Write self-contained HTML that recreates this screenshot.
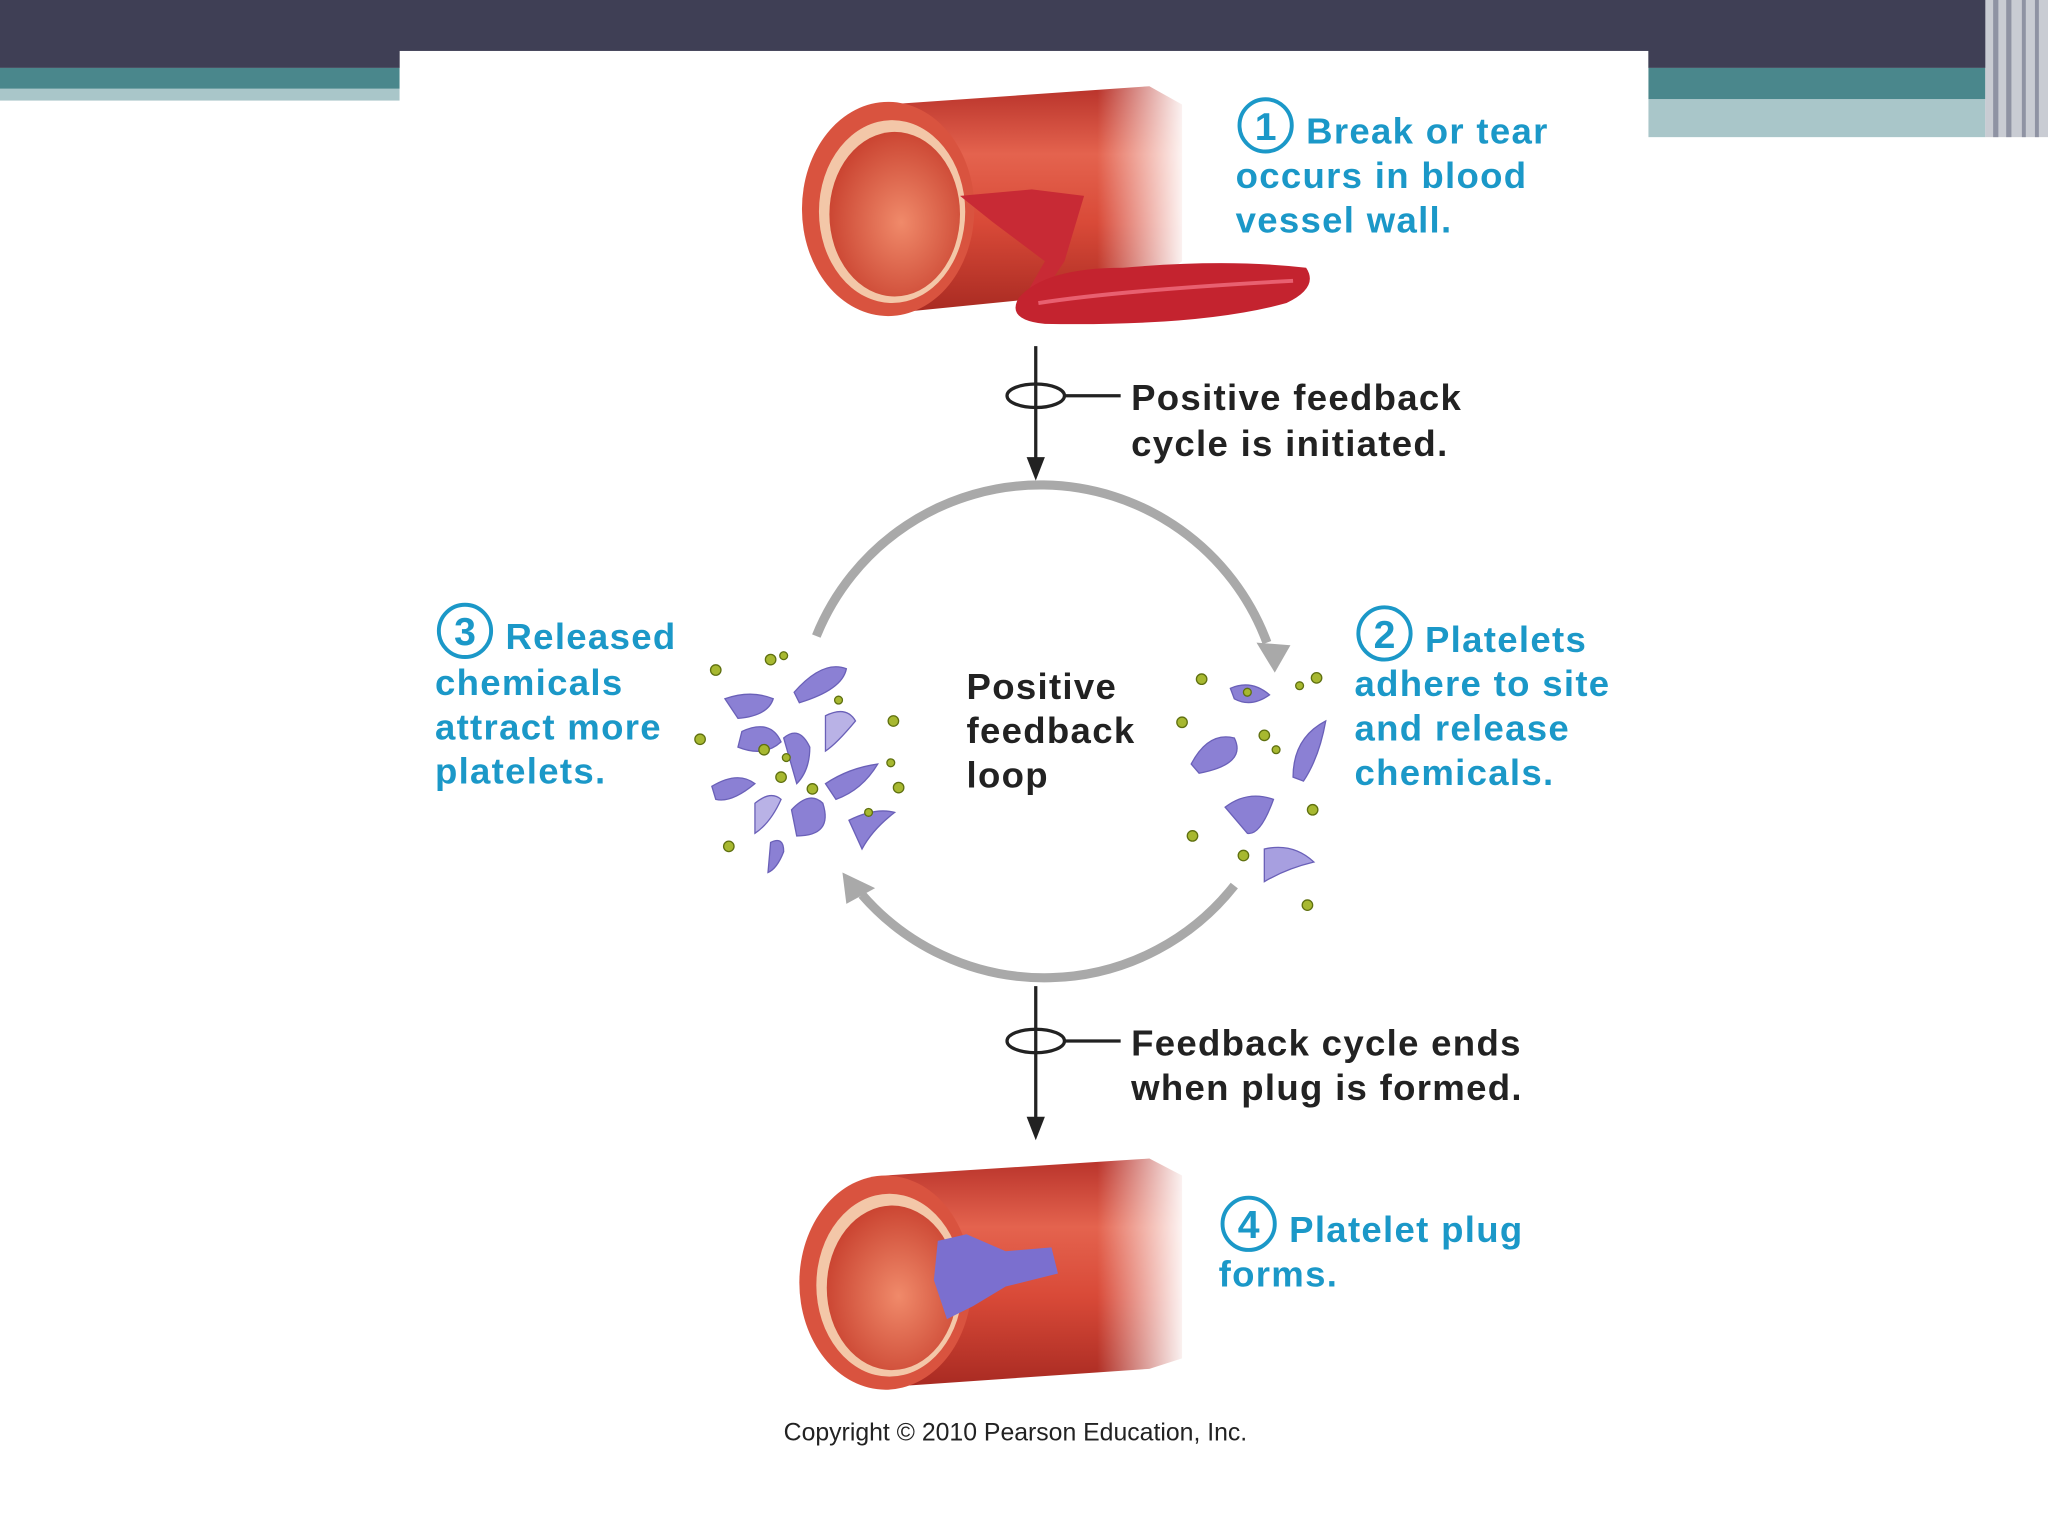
<!DOCTYPE html>
<html><head><meta charset="utf-8"><style>
html,body{margin:0;padding:0;background:#fff;}
svg{display:block}
</style></head><body>
<svg width="2048" height="1536" viewBox="0 0 1568 1176" xmlns="http://www.w3.org/2000/svg">
<defs>
<linearGradient id="vg" x1="0" y1="0" x2="0" y2="1">
<stop offset="0" stop-color="#b8322a"/><stop offset="0.3" stop-color="#e4634e"/><stop offset="0.6" stop-color="#d94a38"/><stop offset="1" stop-color="#a82a22"/>
</linearGradient>
<linearGradient id="fade" x1="0" y1="0" x2="1" y2="0">
<stop offset="0" stop-color="#fff" stop-opacity="0"/><stop offset="1" stop-color="#fff" stop-opacity="1"/>
</linearGradient>
<radialGradient id="inner" cx="0.55" cy="0.55" r="0.6">
<stop offset="0" stop-color="#f08a6a"/><stop offset="1" stop-color="#c8402e"/>
</radialGradient>
</defs>
<rect width="1568" height="1176" fill="#fff"/>
<rect x="0" y="0" width="1568" height="52" fill="#3f3f55"/>
<rect x="0" y="52" width="306" height="16" fill="#4a878c"/>
<rect x="0" y="68" width="306" height="9" fill="#a9c6c9"/>
<rect x="1262" y="52" width="258" height="24" fill="#4a878c"/>
<rect x="1262" y="76" width="258" height="29" fill="#a9c6c9"/>
<rect x="1520" y="0" width="48" height="105" fill="#c9ccd3"/>
<rect x="1526" y="0" width="4" height="105" fill="#8f93a3"/>
<rect x="1536" y="0" width="4" height="105" fill="#8f93a3"/>
<rect x="1548" y="0" width="3" height="105" fill="#8f93a3"/>
<rect x="1558" y="0" width="3" height="105" fill="#8f93a3"/>
<rect x="306" y="39" width="956" height="1137" fill="#fff"/>

<g>
<path d="M680,80 L880,66 L905,80 L905,200 L880,220 L680,240 Z" fill="url(#vg)"/>
<rect x="840" y="60" width="70" height="170" fill="url(#fade)"/>
<ellipse cx="680" cy="160" rx="66" ry="82" fill="#d9533f"/>
<ellipse cx="683" cy="162" rx="56" ry="70" fill="#f3c7a8"/>
<ellipse cx="685" cy="164" rx="50" ry="63" fill="url(#inner)"/>
<path d="M735,150 L790,145 L830,150 L815,200 L795,230 L780,235 L800,200 L760,170 Z" fill="#c82a35"/>
<path d="M780,228 Q800,205 860,205 Q940,198 1000,205 Q1010,220 985,232 Q920,250 800,248 Q770,245 780,228 Z" fill="#c4232f"/>
<path d="M795,232 Q860,222 990,215" stroke="#e86070" stroke-width="3" fill="none"/>
</g>

<g>
<path d="M678,900 L880,887 L905,900 L905,1040 L880,1048 L678,1062 Z" fill="url(#vg)"/>
<rect x="840" y="880" width="70" height="175" fill="url(#fade)"/>
<ellipse cx="678" cy="982" rx="66" ry="82" fill="#d9533f"/>
<ellipse cx="681" cy="984" rx="56" ry="70" fill="#f3c7a8"/>
<ellipse cx="683" cy="986" rx="50" ry="63" fill="url(#inner)"/>
<path d="M718,950 L740,945 L770,958 L805,955 L810,975 L770,985 L745,1000 L725,1010 L715,980 Z" fill="#7b6fcf"/>
</g>

<g stroke="#222" stroke-width="2.5" fill="none">
<line x1="793" y1="265" x2="793" y2="358"/>
<ellipse cx="793" cy="303" rx="22" ry="9"/>
<line x1="815" y1="303" x2="858" y2="303"/>
<line x1="793" y1="755" x2="793" y2="862"/>
<ellipse cx="793" cy="797" rx="22" ry="9"/>
<line x1="815" y1="797" x2="858" y2="797"/>
</g>
<path d="M786,350 L793,368 L800,350 Z" fill="#222"/>
<path d="M786,855 L793,873 L800,855 Z" fill="#222"/>

<g stroke="#a9a9a9" stroke-width="7" fill="none">
<path d="M625,487 A185,185 0 0 1 970,492"/>
<path d="M945,678 A185,185 0 0 1 660,685"/>
</g>
<path d="M962,492 L988,494 L976,515 Z" fill="#a9a9a9"/>
<path d="M645,668 L670,680 L648,692 Z" fill="#a9a9a9"/>

<g fill="#8b80d4" stroke="#6a60b8" stroke-width="1">
<path d="M608,530 Q630,505 648,512 Q645,528 612,538Z"/>
<path d="M555,535 Q575,528 592,535 Q588,548 565,550Z"/>
<path d="M568,560 Q590,550 598,568 Q585,580 565,572Z"/>
<path d="M600,565 Q612,555 620,572 Q620,590 610,600Z"/>
<path d="M632,548 Q648,540 655,552 Q640,570 632,575Z" fill="#b9b2e6"/>
<path d="M632,600 Q650,588 672,585 Q660,605 640,612Z"/>
<path d="M545,602 Q565,590 578,600 Q560,615 548,612Z"/>
<path d="M578,615 Q590,605 598,612 Q590,630 578,638Z" fill="#b9b2e6"/>
<path d="M606,620 Q620,605 630,615 Q638,640 610,640Z"/>
<path d="M650,628 Q670,618 685,622 Q668,635 660,650Z"/>
<path d="M590,645 Q600,640 600,652 Q595,665 588,668Z"/>
</g>
<g fill="#a7b830" stroke="#5f7010" stroke-width="1">
<circle cx="548" cy="513" r="4"/><circle cx="590" cy="505" r="4"/><circle cx="600" cy="502" r="3"/>
<circle cx="684" cy="552" r="4"/><circle cx="536" cy="566" r="4"/><circle cx="585" cy="574" r="4"/>
<circle cx="602" cy="580" r="3"/><circle cx="598" cy="595" r="4"/><circle cx="622" cy="604" r="4"/>
<circle cx="688" cy="603" r="4"/><circle cx="682" cy="584" r="3"/><circle cx="558" cy="648" r="4"/>
<circle cx="642" cy="536" r="3"/><circle cx="665" cy="622" r="3"/>
</g>
<g fill="#8b80d4" stroke="#6a60b8" stroke-width="1">
<path d="M942,527 Q958,520 972,532 Q958,542 945,535Z"/>
<path d="M912,585 Q925,560 945,565 Q955,585 918,592Z"/>
<path d="M990,595 Q990,565 1015,552 Q1010,580 998,598Z"/>
<path d="M938,618 Q955,605 975,612 Q965,640 955,638Z"/>
<path d="M968,650 Q990,645 1006,660 Q985,665 968,675Z" fill="#a79fe0"/>
</g>
<g fill="#a7b830" stroke="#5f7010" stroke-width="1">
<circle cx="920" cy="520" r="4"/><circle cx="995" cy="525" r="3"/><circle cx="1008" cy="519" r="4"/>
<circle cx="905" cy="553" r="4"/><circle cx="968" cy="563" r="4"/><circle cx="977" cy="574" r="3"/>
<circle cx="1005" cy="620" r="4"/><circle cx="913" cy="640" r="4"/><circle cx="952" cy="655" r="4"/>
<circle cx="1001" cy="693" r="4"/><circle cx="955" cy="530" r="3"/>
</g>

<g font-family="Liberation Sans, sans-serif" font-weight="bold" font-size="28" fill="#1b98c8" letter-spacing="1">
<circle cx="969" cy="96" r="20" fill="none" stroke="#1b98c8" stroke-width="3"/>
<text x="969" y="107" text-anchor="middle" font-size="30" letter-spacing="0">1</text>
<text x="1000" y="110">Break or tear</text>
<text x="946" y="144">occurs in blood</text>
<text x="946" y="178">vessel wall.</text>

<circle cx="1060" cy="485" r="20" fill="none" stroke="#1b98c8" stroke-width="3"/>
<text x="1060" y="496" text-anchor="middle" font-size="30" letter-spacing="0">2</text>
<text x="1091" y="499">Platelets</text>
<text x="1037" y="533">adhere to site</text>
<text x="1037" y="567">and release</text>
<text x="1037" y="601">chemicals.</text>

<circle cx="356" cy="483" r="20" fill="none" stroke="#1b98c8" stroke-width="3"/>
<text x="356" y="494" text-anchor="middle" font-size="30" letter-spacing="0">3</text>
<text x="387" y="497">Released</text>
<text x="333" y="532">chemicals</text>
<text x="333" y="566">attract more</text>
<text x="333" y="600">platelets.</text>

<circle cx="956" cy="937" r="20" fill="none" stroke="#1b98c8" stroke-width="3"/>
<text x="956" y="948" text-anchor="middle" font-size="30" letter-spacing="0">4</text>
<text x="987" y="951">Platelet plug</text>
<text x="933" y="985">forms.</text>
</g>
<g font-family="Liberation Sans, sans-serif" font-weight="bold" font-size="28" fill="#222" letter-spacing="1">
<text x="866" y="314">Positive feedback</text>
<text x="866" y="349">cycle is initiated.</text>
<text x="740" y="535">Positive</text>
<text x="740" y="569">feedback</text>
<text x="740" y="603">loop</text>
<text x="866" y="808">Feedback cycle ends</text>
<text x="866" y="842">when plug is formed.</text>
</g>
<text x="600" y="1103" font-family="Liberation Sans, sans-serif" font-size="19" fill="#222">Copyright © 2010 Pearson Education, Inc.</text>
</svg>
</body></html>
